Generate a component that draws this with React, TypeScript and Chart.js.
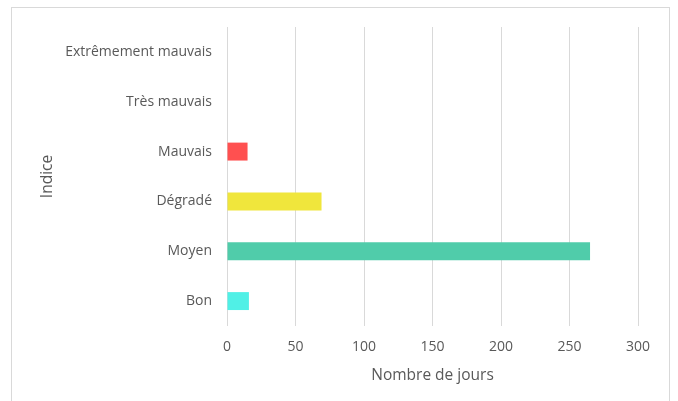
import React, { useEffect, useRef } from "react";
import { Chart, registerables } from "chart.js";

Chart.register(...registerables);

const categories = ["Extrêmement mauvais", "Très mauvais", "Mauvais", "Dégradé", "Moyen", "Bon"];
const values = [0, 0, 15, 69, 265, 16];
const barColors = ["#FF5050", "#C00000", "#FF5050", "#F0E63C", "#50CCAA", "#50F0E6"];
const xTicksMax = 300;
const xStep = 50;
const xTitle = "Nombre de jours";
const yTitle = "Indice";

export default function App() {
  const ref = useRef<HTMLCanvasElement | null>(null);
  useEffect(() => {
    if (!ref.current) return;
    const font = "'Open Sans', sans-serif";
    const chart = new Chart(ref.current, {
      type: "bar",
      data: {
        labels: categories,
        datasets: [
          {
            data: values,
            backgroundColor: barColors,
            barPercentage: 0.6,
            categoryPercentage: 0.6,
          },
        ],
      },
      options: {
        indexAxis: "y",
        animation: false,
        responsive: false,
        maintainAspectRatio: false,
        layout: { padding: { left: 38, top: 27, right: 40, bottom: 16 } },
        plugins: { legend: { display: false }, tooltip: { enabled: false } },
        scales: {
          x: {
            min: 0,
            max: xTicksMax,
            ticks: { stepSize: xStep, color: "#595959", padding: 13, font: { family: font, size: 14 } },
            grid: { color: "#d9d9d9", lineWidth: 1, drawTicks: false },
            border: { display: false },
            title: { display: true, text: xTitle, color: "#595959", font: { family: font, size: 15.5 }, padding: 0 },
            afterFit: (s: any) => {
              s.height = 401 - 16 - 326;
            },
          },
          y: {
            ticks: { color: "#595959", padding: 15, font: { family: font, size: 14 } },
            grid: { display: false, drawTicks: false },
            border: { display: false },
            title: { display: true, text: yTitle, color: "#595959", font: { family: font, size: 15.5 }, padding: 0 },
            afterFit: (s: any) => {
              s.width = 227 - 38;
            },
          },
        },
      },
    });
    return () => chart.destroy();
  }, []);
  return (
    <div style={{ position: "fixed", left: 0, top: 0, width: 678, height: 401, background: "#fff" }}>
      <div
        style={{
          position: "absolute",
          left: 11,
          top: 7,
          width: 659,
          height: 420,
          border: "1px solid #d9d9d9",
          boxSizing: "border-box",
        }}
      />
      <canvas ref={ref} width={678} height={401} style={{ position: "absolute", left: 0, top: 0 }} />
    </div>
  );
}
